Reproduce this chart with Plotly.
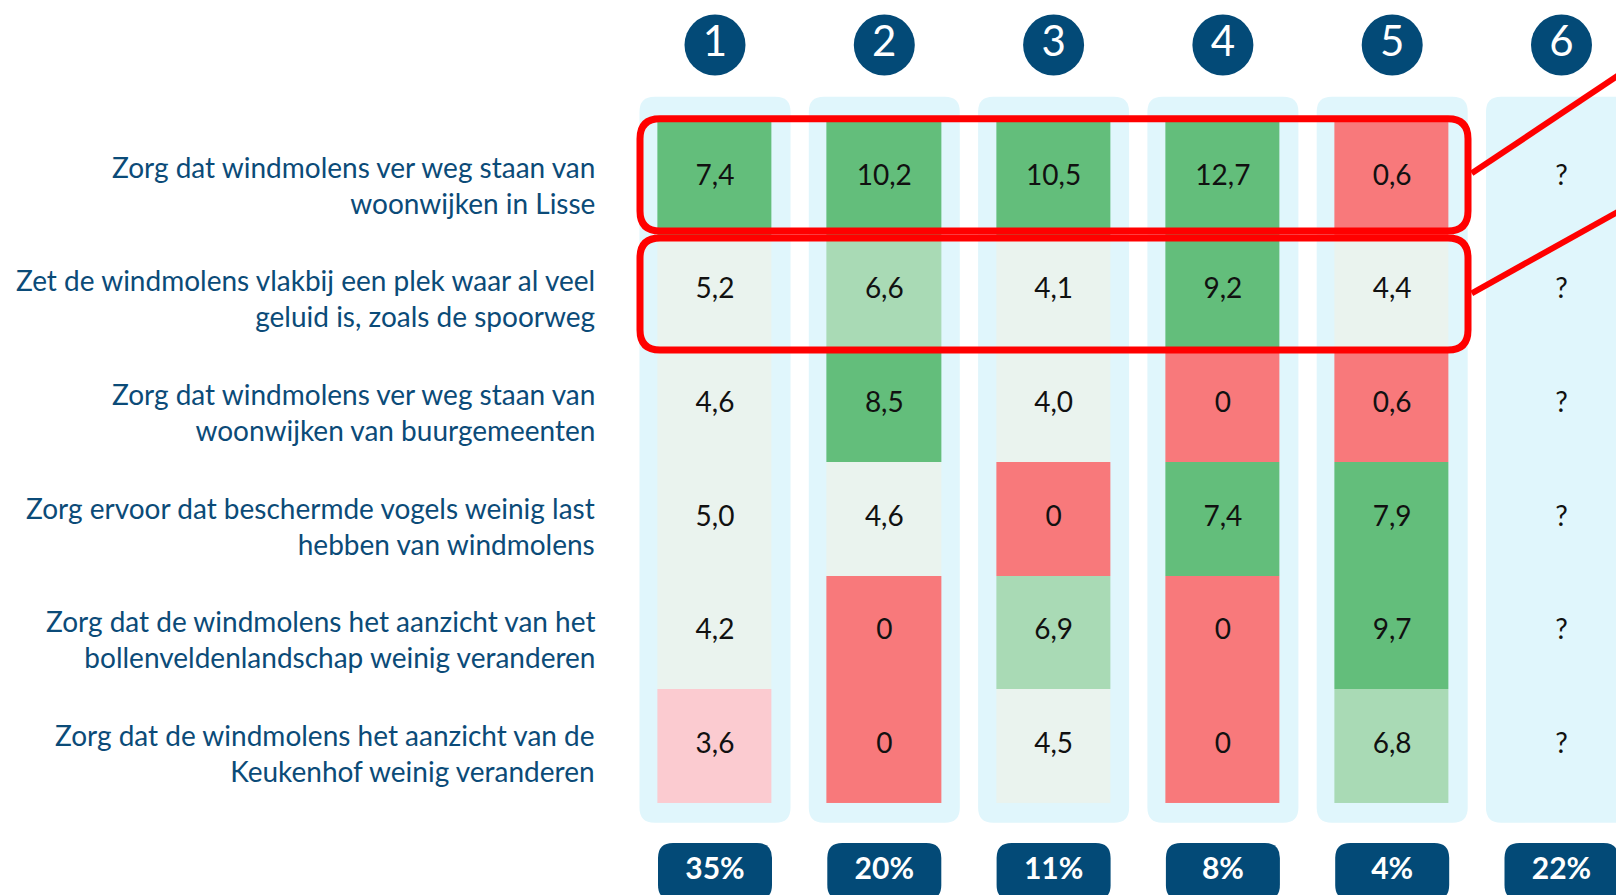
import plotly.graph_objects as go

# ---------------- data ----------------
statements = [
    "Zorg dat windmolens ver weg staan van<br>woonwijken in Lisse",
    "Zet de windmolens vlakbij een plek waar al veel<br>geluid is, zoals de spoorweg",
    "Zorg dat windmolens ver weg staan van<br>woonwijken van buurgemeenten",
    "Zorg ervoor dat beschermde vogels weinig last<br>hebben van windmolens",
    "Zorg dat de windmolens het aanzicht van het<br>bollenveldenlandschap weinig veranderen",
    "Zorg dat de windmolens het aanzicht van de<br>Keukenhof weinig veranderen",
]
groups = ["1", "2", "3", "4", "5", "6"]
group_share = ["35%", "20%", "11%", "8%", "4%", "22%"]

# scores per group (column), one value per statement; None = unknown
group1 = [7.4, 5.2, 4.6, 5.0, 4.2, 3.6]
group2 = [10.2, 6.6, 8.5, 4.6, 0, 0]
group3 = [10.5, 4.1, 4.0, 0, 6.9, 4.5]
group4 = [12.7, 9.2, 0, 7.4, 0, 0]
group5 = [0.6, 4.4, 0.6, 7.9, 9.7, 6.8]
group6 = [None, None, None, None, None, None]
columns = [group1, group2, group3, group4, group5, group6]

highlighted_rows = [0, 1]

# ---------------- style ----------------
DARK_BLUE = "#034a77"
TEXT_BLUE = "#0b4b78"
BOX_BLUE = "#e0f6fc"
RED = "#f8797b"
PINK = "#fbcbd0"
PALE = "#eaf3ee"
LIGHT_GREEN = "#a9dab5"
GREEN = "#63be7b"
FONT = "Lato"

PAGE_MARGIN = 8          # default body margin of the html page
W, H = 1624 - PAGE_MARGIN, 895 - PAGE_MARGIN
PX_X = 169.3      # pixels per column unit
PX_Y = 113.67     # pixels per row unit
X0_PX = 715.0     # screen pixel of column 0 centre
Y0_PX = 177.8     # screen pixel of row 0 centre

x_range = [(PAGE_MARGIN - X0_PX) / PX_X, (PAGE_MARGIN + W - X0_PX) / PX_X]
y_range = [(PAGE_MARGIN + H - Y0_PX) / PX_Y, (PAGE_MARGIN - Y0_PX) / PX_Y]  # reversed


def px2y(p):
    return (p - Y0_PX) / PX_Y


def px2x(p):
    return (p - X0_PX) / PX_X


def category(v):
    if v is None:
        return None
    if v >= 7:
        return 4
    if v >= 6:
        return 3
    if v >= 4:
        return 2
    if v >= 1:
        return 1
    return 0


def fmt(v):
    if v is None:
        return "?"
    if v == 0:
        return "0"
    return f"{v:.1f}".replace(".", ",")


def rrect(x0, x1, y0, y1, rpx):
    rx, ry = rpx / PX_X, rpx / PX_Y
    return (f"M {x0+rx},{y0} L {x1-rx},{y0} Q {x1},{y0} {x1},{y0+ry} "
            f"L {x1},{y1-ry} Q {x1},{y1} {x1-rx},{y1} L {x0+rx},{y1} "
            f"Q {x0},{y1} {x0},{y1-ry} L {x0},{y0+ry} Q {x0},{y0} {x0+rx},{y0} Z")


n_rows = len(statements)
n_cols = len(groups)

z = [[category(columns[c][r]) for c in range(n_cols)] for r in range(n_rows)]

fig = go.Figure()

# coloured cells
fig.add_trace(go.Heatmap(
    x=list(range(n_cols)), y=list(range(n_rows)), z=z,
    zmin=-0.5, zmax=4.5,
    colorscale=[[0, RED], [0.2, RED], [0.2, PINK], [0.4, PINK], [0.4, PALE],
                [0.6, PALE], [0.6, LIGHT_GREEN], [0.8, LIGHT_GREEN],
                [0.8, GREEN], [1, GREEN]],
    showscale=False, xgap=55, ygap=0, hoverinfo="skip",
))

# cell values
cx, cy, ct = [], [], []
for c in range(n_cols):
    for r in range(n_rows):
        cx.append(c)
        cy.append(r)
        ct.append(fmt(columns[c][r]))
fig.add_trace(go.Scatter(
    x=cx, y=cy, text=ct, mode="text",
    textfont=dict(family=FONT, size=28, color="#111111"),
    textposition="middle center", hoverinfo="skip", showlegend=False,
))

# group number circles
circle_y = px2y(45)
fig.add_trace(go.Scatter(
    x=list(range(n_cols)), y=[circle_y] * n_cols, text=groups,
    mode="markers+text",
    marker=dict(size=61, color=DARK_BLUE, line=dict(width=0)),
    textfont=dict(family=FONT, size=42, color="white"),
    textposition="middle center", hoverinfo="skip", showlegend=False,
))

# percentage labels
pct_y = px2y(871)
fig.add_trace(go.Scatter(
    x=list(range(n_cols)), y=[pct_y] * n_cols, text=group_share,
    mode="text",
    textfont=dict(family=FONT, size=30, color="white", weight="bold"),
    textposition="middle center", hoverinfo="skip", showlegend=False,
))

shapes = []
# light-blue column backgrounds
box_half = 75.5 / PX_X
box_top, box_bot = px2y(96.7), px2y(822.7)
for c in range(n_cols):
    shapes.append(dict(type="path", xref="x", yref="y", layer="below",
                       path=rrect(c - box_half, c + box_half, box_top, box_bot, 15),
                       fillcolor=BOX_BLUE, line=dict(width=0)))
# percentage boxes
pct_half = 57 / PX_X
pct_top, pct_bot = px2y(843), px2y(900)
for c in range(n_cols):
    shapes.append(dict(type="path", xref="x", yref="y", layer="below",
                       path=rrect(c - pct_half, c + pct_half, pct_top, pct_bot, 15),
                       fillcolor=DARK_BLUE, line=dict(width=0)))

# red highlight rectangles and lines pointing off to the right
hl_left = px2x(640)
hl_right = px2x(1468)
row_pads = {0: (-0.52, 0.468), 1: (-0.47, 0.515)}
line_start = {0: (1471.7, 173.3), 1: (1471.7, 293.3)}
line_end = {0: (1663, 45.5), 1: (1663, 186.7)}
for r in highlighted_rows:
    t, b = row_pads[r]
    shapes.append(dict(type="path", xref="x", yref="y", layer="above",
                       path=rrect(hl_left, hl_right, r + t, r + b, 20),
                       fillcolor="rgba(0,0,0,0)", line=dict(color="#ff0000", width=7)))
    (sx, sy), (ex, ey) = line_start[r], line_end[r]
    shapes.append(dict(type="line", xref="x", yref="y", layer="above",
                       x0=px2x(sx), y0=px2y(sy), x1=px2x(ex), y1=px2y(ey),
                       line=dict(color="#ff0000", width=6)))

annotations = []
label_x = px2x(597)
for r, s in enumerate(statements):
    annotations.append(dict(
        x=label_x, y=r, xref="x", yref="y", text=s, showarrow=False,
        xanchor="right", yanchor="middle", align="right", yshift=-7,
        font=dict(family=FONT, size=28, color=TEXT_BLUE),
    ))

fig.update_layout(
    width=W, height=H,
    margin=dict(l=0, r=0, t=0, b=0),
    paper_bgcolor="white", plot_bgcolor="white",
    shapes=shapes, annotations=annotations, showlegend=False,
    xaxis=dict(range=x_range, visible=False, fixedrange=True),
    yaxis=dict(range=y_range, visible=False, fixedrange=True),
)

fig.write_html("out.html")
